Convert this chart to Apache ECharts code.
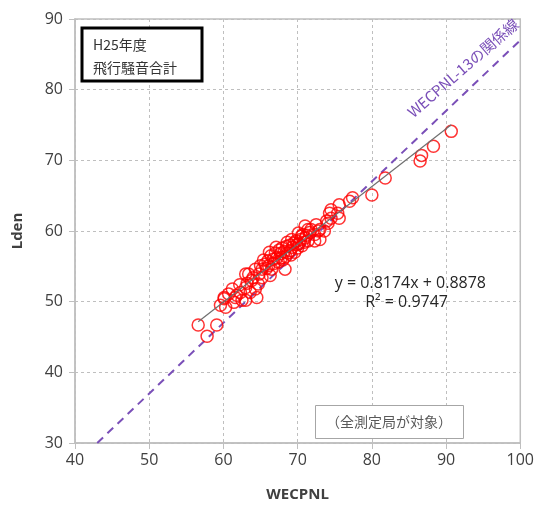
<!DOCTYPE html>
<html>
<head>
<meta charset="utf-8">
<script src="https://cdn.jsdelivr.net/npm/echarts@6/dist/echarts.min.js"></script>
<style>
  html, body { margin: 0; padding: 0; background: #fff; }
  #chart { width: 537px; height: 507px; }
</style>
</head>
<body>
<div id="chart"></div>
<script>
// WECPNL vs Lden for every monitoring station (H25 aircraft noise total)
const wecpnl = [
  56.6, 57.8, 59.1, 59.6, 60.3, 60.1, 60.7, 61.4, 61.6, 61.8,
  62.3, 62.5, 63.0, 63.0, 63.6, 64.5, 63.4, 63.8, 64.3, 64.7,
  64.3, 65.2, 65.6, 66.3, 66.5, 65.2, 66.1, 66.7, 67.8, 68.3,
  69.0, 69.9, 70.7, 71.4, 71.4, 72.5, 73.0, 73.9, 74.3, 71.0,
  71.8, 70.1, 70.5, 72.8, 73.6, 74.1, 73.0, 71.0, 72.3, 72.3,
  74.5, 75.4, 75.6, 74.5, 75.6, 77.0, 77.4, 80.0, 81.8, 86.5,
  86.7, 88.3, 90.7,
  66.0, 66.4, 66.8, 67.0, 67.2, 67.4, 67.5, 67.7, 67.9, 68.0,
  68.2, 68.4, 68.5, 68.7, 68.9, 69.1, 69.3, 69.5, 69.6, 69.8,
  70.0, 70.2, 70.4, 70.6, 70.9, 71.2, 71.6, 65.4, 65.8, 66.2,
  67.1, 68.6, 69.2, 64.8, 65.0, 64.0, 63.2, 62.2, 61.2, 63.0,
  60.1
];
const lden = [
  46.7, 45.1, 46.7, 49.5, 49.2, 50.4, 51.1, 49.9, 50.6, 50.9,
  51.3, 50.2, 50.2, 52.0, 51.3, 50.6, 53.9, 53.0, 51.8, 52.5,
  54.6, 53.4, 55.3, 53.7, 54.6, 54.6, 55.1, 56.0, 56.2, 54.6,
  57.2, 58.1, 59.5, 58.6, 60.2, 60.9, 58.8, 61.4, 62.5, 60.7,
  60.2, 59.7, 59.3, 60.0, 60.0, 61.1, 60.2, 59.0, 59.5, 58.6,
  63.0, 62.5, 61.8, 61.8, 63.7, 64.2, 64.7, 65.1, 67.5, 69.9,
  70.7, 72.0, 74.1,
  55.8, 56.5, 55.4, 56.9, 56.2, 55.6, 57.3, 56.8, 57.6, 55.9,
  57.1, 56.4, 57.8, 56.9, 58.0, 56.6, 57.7, 58.3, 57.0, 58.6,
  57.6, 58.2, 58.8, 57.9, 58.4, 59.4, 59.8, 55.9, 54.7, 57.0,
  57.7, 58.4, 58.8, 53.9, 55.1, 53.4, 52.6, 52.4, 51.8, 53.9,
  50.6
];

// Linear regression fit printed on the chart
const slope = 0.8174;
const intercept = 0.8878;
const rSquared = 0.9747;

// Reference relation Lden = WECPNL - 13
const refOffset = 13;
const refXRange = [43, 100];

const xTicks = { min: 40, max: 100, step: 10 };
const yTicks = { min: 30, max: 90, step: 10 };

const points = wecpnl.map((x, i) => [x, lden[i]]);
const xMin = Math.min(...wecpnl);
const xMax = Math.max(...wecpnl);
const fitLine = [xMin, xMax].map(x => [x, slope * x + intercept]);
const refLine = refXRange.map(x => [x, x - refOffset]);

const FONT = '"Open Sans", "Noto Sans CJK JP", sans-serif';
const JP = '"Noto Sans CJK JP", sans-serif';
const AXIS_GRAY = '#bfbfbf';
const TEXT_GRAY = '#404040';
const PURPLE = '#7a4fb8';

const chart = echarts.init(document.getElementById('chart'));
chart.setOption({
  animation: false,
  backgroundColor: '#fff',
  grid: {
    left: 75, right: 13, top: 19, bottom: 60,
    show: true, borderColor: AXIS_GRAY, borderWidth: 1.5
  },
  xAxis: {
    type: 'value',
    min: xTicks.min, max: xTicks.max, interval: xTicks.step,
    name: 'WECPNL', nameLocation: 'middle', nameGap: 44,
    nameTextStyle: { fontFamily: FONT, fontSize: 15, fontWeight: 'bold', color: TEXT_GRAY },
    axisLine: { lineStyle: { color: AXIS_GRAY, width: 1.5 } },
    axisTick: { show: true, inside: false, length: 6, lineStyle: { color: AXIS_GRAY } },
    axisLabel: { fontFamily: FONT, fontSize: 16, color: TEXT_GRAY, margin: 9 },
    splitLine: { show: true, lineStyle: { color: AXIS_GRAY, type: [3, 3], width: 1 } }
  },
  yAxis: {
    type: 'value',
    min: yTicks.min, max: yTicks.max, interval: yTicks.step,
    name: 'Lden', nameLocation: 'middle', nameGap: 50, nameRotate: 90,
    nameTextStyle: { fontFamily: FONT, fontSize: 15, fontWeight: 'bold', color: TEXT_GRAY },
    axisLine: { show: true, lineStyle: { color: AXIS_GRAY, width: 1.5 } },
    axisTick: { show: true, inside: false, length: 6, lineStyle: { color: AXIS_GRAY } },
    axisLabel: { fontFamily: FONT, fontSize: 16, color: TEXT_GRAY, margin: 12 },
    splitLine: { show: true, lineStyle: { color: AXIS_GRAY, type: [3, 3], width: 1 } }
  },
  series: [
    {
      name: 'WECPNL-13',
      type: 'line',
      data: refLine,
      symbol: 'none',
      z: 2,
      lineStyle: { color: PURPLE, width: 2, type: [8, 6] }
    },
    {
      name: 'stations',
      type: 'scatter',
      data: points,
      symbol: 'circle',
      symbolSize: 12,
      z: 3,
      itemStyle: { color: 'rgba(0,0,0,0)', borderColor: '#ff0000', borderWidth: 1.5 }
    },
    {
      name: 'fit',
      type: 'line',
      data: fitLine,
      symbol: 'none',
      z: 4,
      lineStyle: { color: '#6f6f6f', width: 1.2 }
    }
  ],
  graphic: [
    {
      type: 'rect',
      shape: { x: 82, y: 28, width: 120, height: 53 },
      style: { fill: '#fff', stroke: '#000', lineWidth: 3 },
      z: 10
    },
    {
      type: 'text', x: 93, y: 45, z: 11,
      style: { text: 'H25年度', font: '14px ' + JP, fill: '#333', verticalAlign: 'middle' }
    },
    {
      type: 'text', x: 93, y: 68, z: 11,
      style: { text: '飛行騒音合計', font: '14px ' + JP, fill: '#333', verticalAlign: 'middle' }
    },
    {
      type: 'rect',
      shape: { x: 315.5, y: 405.5, width: 148, height: 33 },
      style: { fill: '#fff', stroke: '#a6a6a6', lineWidth: 1 },
      z: 10
    },
    {
      type: 'text', x: 389, y: 422, z: 11,
      style: { text: '（全測定局が対象）', font: '14px ' + JP, fill: '#595959', align: 'center', verticalAlign: 'middle' }
    },
    {
      type: 'text', x: 486, y: 283, z: 11,
      style: { text: 'y = ' + slope.toFixed(4) + 'x + ' + intercept.toFixed(4), font: '16px ' + FONT, fill: '#262626', align: 'right', verticalAlign: 'middle' }
    },
    {
      type: 'text', x: 448, y: 302, z: 11,
      style: { text: 'R² = ' + rSquared.toFixed(4), font: '16px ' + FONT, fill: '#262626', align: 'right', verticalAlign: 'middle' }
    },
    {
      type: 'text', x: 463, y: 68, z: 11,
      rotation: 41 * Math.PI / 180,
      style: { text: 'WECPNL-13の関係線', font: '15px ' + JP, fill: PURPLE, align: 'center', verticalAlign: 'middle' }
    }
  ]
});
</script>
</body>
</html>
